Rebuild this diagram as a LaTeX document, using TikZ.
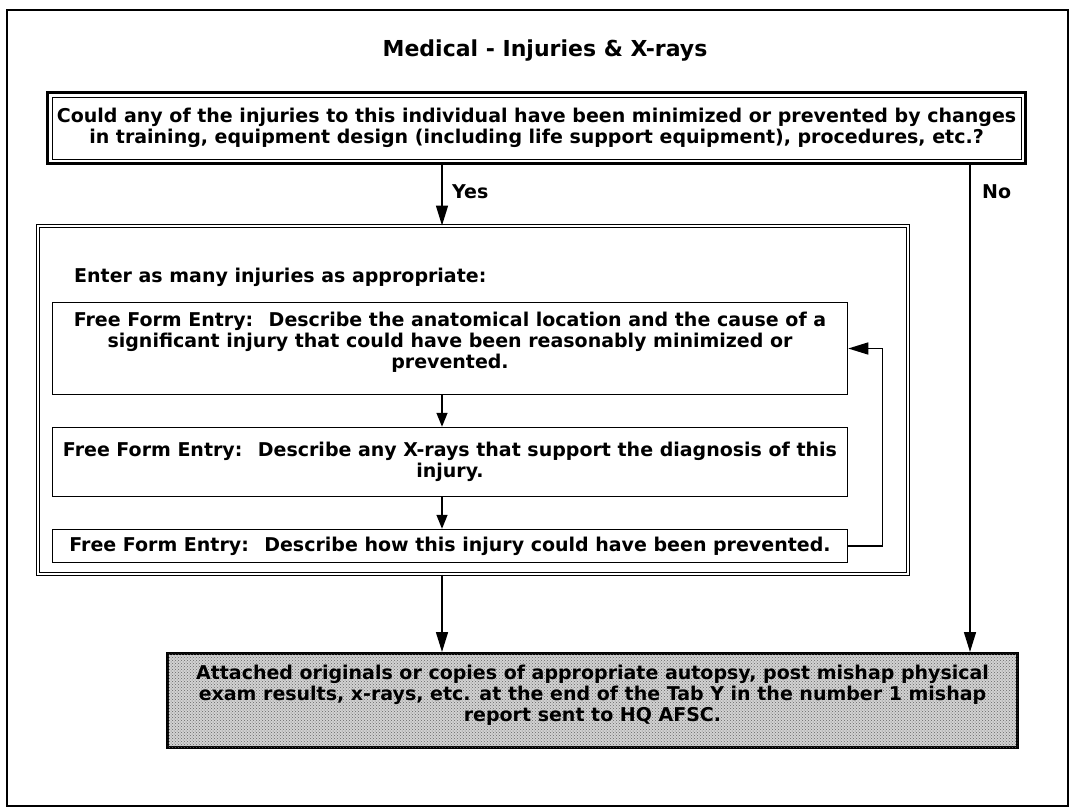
\documentclass[tikz,border=0pt]{standalone}
\usepackage{fontspec}
\setmainfont{DejaVu Sans}
\usetikzlibrary{arrows.meta,patterns}

\begin{document}
\begin{tikzpicture}[x=1pt, y=-1pt,
  every node/.style={font=\bfseries\fontsize{19}{21}\selectfont, align=center, inner sep=0pt},
  entrybox/.style={draw, line width=1.5pt, minimum width=795pt},
  link/.style={line width=1.5pt, -{Triangle[length=20pt,width=12pt]}},
  shortlink/.style={line width=1.5pt, -{Triangle[length=14pt,width=11pt]}}]
  \useasboundingbox (0,0) rectangle (1071,809);
  \draw[line width=2pt] (7,10) rectangle (1068,806);
  \node (title) at (545,51) {\fontsize{22}{26}\selectfont Medical - Injuries \& X-rays};
  \node[draw, line width=3pt, minimum width=978pt, minimum height=71pt] (question) at (536.5,128)
    {Could any of the injuries to this individual have been minimized or prevented by changes\\
     in training, equipment design (including life support equipment), procedures, etc.?};
  \draw[line width=1pt] ([xshift=6pt,yshift=-6pt]question.north west) rectangle ([xshift=-6pt,yshift=6pt]question.south east);
  \node[draw, double, double distance=1.5pt, line width=1pt, minimum width=870pt, minimum height=348pt] (entries) at (473,400) {};
  \node[anchor=west] (enter) at (74,277) {Enter as many injuries as appropriate:};
  \node[entrybox, minimum height=92pt, text depth=17pt] (locate) at (450,348.5)
    {Free Form Entry:~ Describe the anatomical location and the cause of a\\
     significant injury that could have been reasonably minimized or\\
     prevented.};
  \node[entrybox, minimum height=69pt] (xray) at (450,462)
    {Free Form Entry:~ Describe any X-rays that support the diagnosis of this\\
     injury.};
  \node[entrybox, minimum height=33pt] (prevent) at (450,546)
    {Free Form Entry:~ Describe how this injury could have been prevented.};
  \node[draw, line width=3pt, fill=gray!35, postaction={pattern=crosshatch dots, pattern color=black!60},
        minimum width=850pt, minimum height=94pt, text depth=14pt] (attach) at (592.5,700.5)
    {Attached originals or copies of appropriate autopsy, post mishap physical\\
     exam results, x-rays, etc. at the end of the Tab Y in the number 1 mishap\\
     report sent to HQ AFSC.};
  \node[anchor=west] (yes) at (452,192) {Yes};
  \node[anchor=west] (no) at (982,192) {No};
  \coordinate (spine) at (442,0);
  \coordinate (nox) at (970,0);
  \draw[link] (question.south -| spine) -- (entries.north -| spine);
  \draw[link] (question.south -| nox) -- (attach.north -| nox);
  \draw[shortlink] (locate.south -| spine) -- (xray.north -| spine);
  \draw[shortlink] (xray.south -| spine) -- (prevent.north -| spine);
  \draw[link] (prevent.east) -- ++(34,0) |- (locate.east);
  \draw[link] (entries.south -| spine) -- (attach.north -| spine);
\end{tikzpicture}
\end{document}
